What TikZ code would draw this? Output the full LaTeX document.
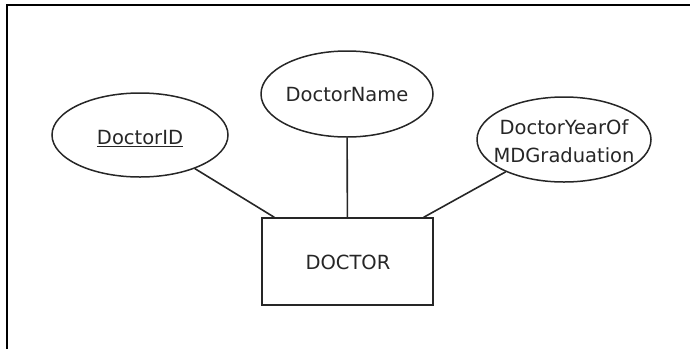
\documentclass[tikz,border=0pt]{standalone}
\usepackage{fontspec}
\setmainfont{DejaVu Sans}
\usetikzlibrary{shapes.geometric,calc}
\begin{document}
\begin{tikzpicture}[x=1pt,y=-1pt,
 attr/.style={draw=black!85,line width=1.5pt,ellipse,inner sep=0pt},
 ent/.style={draw=black!85,line width=1.5pt,rectangle,inner sep=0pt},
 lbl/.style={font=\fontsize{19.5}{28}\selectfont,text=black!85,align=center,inner sep=0pt},
 link/.style={draw=black!85,line width=1.6pt},
 frame/.style={draw=black,line width=2pt}]
\useasboundingbox (0,0) rectangle (690,349);
\draw[frame] (7,349) -- (7,5) -- (690,5);
% entity
\node[ent,minimum width=171pt,minimum height=87pt] (DOC) at (347.5,261.5) {};
\node[lbl] (tDOC) at (348,262) {DOCTOR};
% attributes
\node[attr,minimum width=176pt,minimum height=84pt] (DID) at (140,135) {};
\node[lbl] (tDID) at (140,139) {\underline{DoctorID}};
\node[attr,minimum width=172pt,minimum height=86pt] (DN) at (347,94) {};
\node[lbl] (tDN) at (347,95) {DoctorName};
\node[attr,minimum width=174pt,minimum height=85pt] (DY) at (564,139.5) {};
\node[lbl] (tDY) at (564,141) {DoctorYearOf\\MDGraduation};
% connectors
\coordinate (cL) at ($(DOC.north west)+(13,0)$);
\coordinate (cR) at ($(DOC.north east)+(-10,0)$);
\draw[link] (DID) -- (cL);
\draw[link] (DN) -- (DOC);
\draw[link] (DY) -- (cR);
\end{tikzpicture}
\end{document}
